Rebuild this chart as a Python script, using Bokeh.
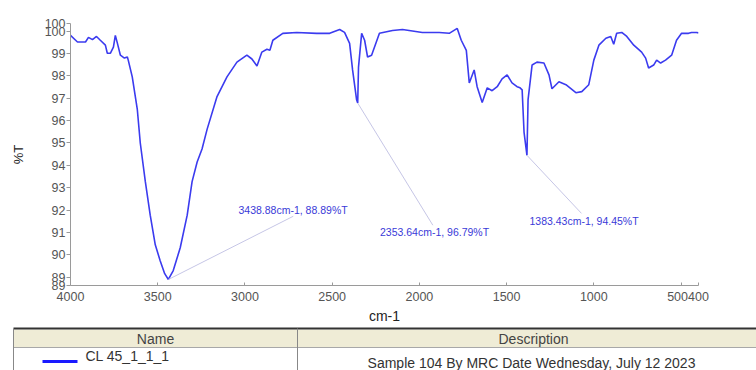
from bokeh.plotting import figure
from bokeh.layouts import column, row
from bokeh.models import Range1d, FixedTicker, ColumnDataSource
from bokeh.core.properties import value
from bokeh.embed import file_html
from bokeh.resources import INLINE

# IR spectrum of sample CL 45_1_1_1 (wavenumber in cm-1, transmittance in %T)
wavenumber = [4000, 3960, 3914, 3897, 3874, 3851, 3829, 3800, 3789, 3771, 3754, 3743,
              3731, 3714, 3691, 3674, 3669, 3646, 3617, 3600, 3571, 3543, 3514, 3486,
              3460, 3438.88, 3411, 3371, 3331, 3303, 3274, 3246, 3217, 3160, 3103, 3046,
              2989, 2960, 2931, 2903, 2874, 2857, 2840, 2783, 2703, 2589, 2514, 2457,
              2429, 2400, 2383, 2360, 2353.64, 2349, 2331, 2314, 2297, 2274, 2229, 2154,
              2097, 1983, 1886, 1829, 1783, 1760, 1731, 1714, 1686, 1669, 1640, 1611,
              1583, 1554, 1526, 1497, 1469, 1440, 1423, 1411, 1400, 1383.43, 1377, 1354,
              1326, 1286, 1257, 1240, 1200, 1160, 1103, 1069, 1029, 1000, 971, 931,
              903, 886, 869, 840, 811, 771, 726, 703, 686, 657, 640, 617,
              589, 554, 526, 497, 457, 440, 411, 400]
transmittance = [99.82, 99.52, 99.52, 99.73, 99.63, 99.77, 99.60, 99.38, 99.02, 99.02, 99.29, 99.82,
                 99.46, 98.93, 98.80, 98.85, 98.71, 97.96, 96.50, 95.00, 93.27, 91.77, 90.44, 89.73,
                 89.15, 88.89, 89.29, 90.31, 91.77, 93.27, 94.15, 94.73, 95.61, 97.08, 97.96, 98.62,
                 98.93, 98.76, 98.45, 99.07, 99.20, 99.15, 99.60, 99.91, 99.95, 99.91, 99.91, 100.08,
                 99.95, 99.46, 98.27, 96.94, 96.79, 98.40, 99.91, 99.60, 98.85, 98.93, 99.91, 100.04,
                 100.08, 99.95, 99.95, 99.91, 100.13, 99.60, 99.15, 97.69, 98.27, 97.52, 96.81, 97.47,
                 97.34, 97.52, 97.87, 98.05, 97.69, 97.52, 97.47, 97.38, 95.48, 94.45, 96.94, 98.49,
                 98.62, 98.58, 98.05, 97.43, 97.74, 97.61, 97.25, 97.30, 97.61, 98.71, 99.38, 99.69,
                 99.77, 99.42, 99.91, 99.95, 99.77, 99.38, 99.07, 98.80, 98.36, 98.49, 98.71, 98.58,
                 98.71, 98.93, 99.60, 99.91, 99.91, 99.95, 99.95, 99.93]

# Labelled peaks
peak_wn = [3438.88, 2353.64, 1383.43]
peak_t = [88.89, 96.79, 94.45]
# Where each peak label sits (wavenumber of the text's left edge, %T of its middle)
label_wn = [3037, 2226, 1369]
label_t = [91.99, 91.01, 91.50]
# End of each leader line
leader_wn = [2723, 1923, 1071]
leader_t = [91.72, 91.32, 91.85]

x_ticks = [4000, 3500, 3000, 2500, 2000, 1500, 1000, 500, 400]
y_lo, y_hi = 88.62, 100.35
y_ticks = [y_lo, 89, 90, 91, 92, 93, 94, 95, 96, 97, 98, 99, 100, y_hi]

sample_name = "CL 45_1_1_1"
sample_desc = "Sample 104 By MRC Date Wednesday, July 12 2023"

FONT = "Liberation Sans"
AXIS_GREY = "#9a9a9a"
NBSP = "\u00a0"

p = figure(width=756, height=326, output_backend="svg", toolbar_location=None,
           x_range=Range1d(4000, 400), y_range=Range1d(y_lo, y_hi),
           min_border_left=70, min_border_right=58, min_border_top=23,
           min_border_bottom=38)
p.outline_line_color = None
p.xgrid.grid_line_color = None
p.ygrid.grid_line_color = None
p.background_fill_color = "white"
p.border_fill_color = "white"

p.line(wavenumber, transmittance, line_color="#3b3bef", line_width=1.6)

# leader lines from each peak to its label
p.segment(x0=peak_wn, y0=peak_t, x1=leader_wn, y1=leader_t,
          line_color="#c6c6e6", line_width=1)
src = ColumnDataSource(dict(
    x=label_wn, y=label_t,
    txt=[f"{w:.2f}cm-1, {t:.2f}%T" for w, t in zip(peak_wn, peak_t)]))
p.text(x="x", y="y", text="txt", source=src, text_font=value(FONT),
       text_font_size="10.5px", text_color="#3a3ad8",
       text_baseline="middle", text_align="left")

xa = p.xaxis[0]
xa.ticker = FixedTicker(ticks=x_ticks)
x_labels = {t: str(t) for t in x_ticks}
x_labels[500] = "500" + NBSP * 2  # keep "500" clear of the "400" end label
xa.major_label_overrides = x_labels
xa.axis_label = "cm-1"
xa.axis_label_text_font = FONT
xa.axis_label_text_font_style = "normal"
xa.axis_label_text_font_size = "14px"
xa.axis_label_text_color = "#222222"
xa.axis_label_standoff = 1
xa.major_tick_in = 3
xa.major_tick_out = 0
xa.major_label_standoff = 4
xa.minor_tick_line_color = None

ya = p.yaxis[0]
ya.ticker = FixedTicker(ticks=y_ticks)
ya.major_label_overrides = {y_lo: "89", y_hi: "100"}
ya.axis_label = "%T"
ya.axis_label_text_font = FONT
ya.axis_label_text_font_style = "normal"
ya.axis_label_text_font_size = "13px"
ya.axis_label_text_color = "#222222"
ya.axis_label_standoff = 16
ya.major_tick_in = 0
ya.major_tick_out = 4
ya.major_label_standoff = 1
ya.minor_tick_line_color = None

for ax in (xa, ya):
    ax.axis_line_color = AXIS_GREY
    ax.major_tick_line_color = AXIS_GREY
    ax.major_label_text_font = FONT
    ax.major_label_text_font_size = "12.5px"
    ax.major_label_text_color = "#555555"

# legend table under the chart, laid out in pixel units (y grows downward)
t = figure(width=756, height=44, output_backend="svg", toolbar_location=None,
           x_range=Range1d(0, 756), y_range=Range1d(44, 0),
           x_axis_location=None, y_axis_location=None,
           min_border=0, min_border_left=0, min_border_right=0,
           min_border_top=0, min_border_bottom=0)
t.xgrid.grid_line_color = None
t.ygrid.grid_line_color = None
t.outline_line_color = None

t.quad(left=13, right=756, top=3, bottom=21, fill_color="#efecd6", line_color=None)
t.segment(x0=13, y0=21, x1=756, y1=21, line_color="#a8a8a8", line_width=1)
t.segment(x0=13, y0=2, x1=756, y1=2, line_color="#333333", line_width=2)
t.segment(x0=13, y0=2, x1=13, y1=44, line_color="#888888", line_width=1)
t.segment(x0=297, y0=2, x1=297, y1=44, line_color="#888888", line_width=1)

t.text(x=[155, 533], y=[12, 12], text=["Name", "Description"],
       text_font=value(FONT), text_font_size="14px", text_color="#444444",
       text_align="center", text_baseline="middle")
t.segment(x0=42, y0=35, x1=77, y1=35, line_color="#1a1aff", line_width=3)
t.text(x=[85], y=[29], text=[sample_name], text_font=value(FONT),
       text_font_size="14px", text_color="#333333",
       text_align="left", text_baseline="middle")
t.text(x=[531], y=[36], text=[sample_desc], text_font=value(FONT),
       text_font_size="14px", text_color="#333333",
       text_align="center", text_baseline="middle")

# the table sits in its own row so its frame is not lined up with the chart's
layout = column(p, row(t), spacing=0)
open("out.html", "w").write(file_html(layout, INLINE))
